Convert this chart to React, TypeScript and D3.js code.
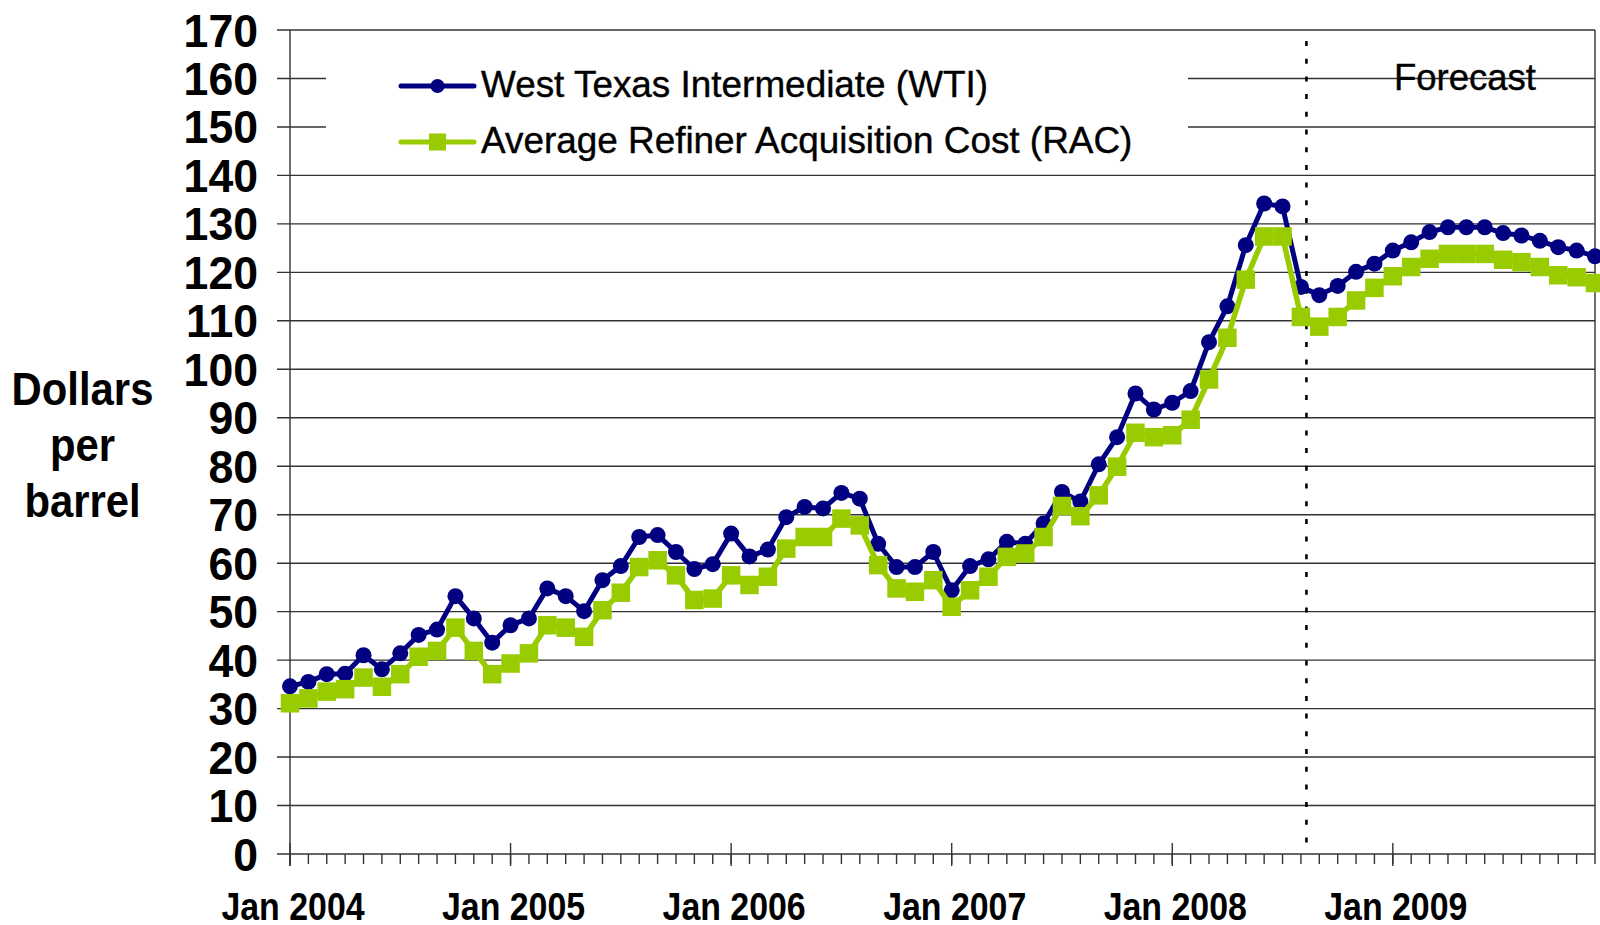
import React from "react";
import * as d3 from "d3";

// ---- Data ----
const years = [2004, 2005, 2006, 2007, 2008, 2009];
const monthNames = ["Jan", "Feb", "Mar", "Apr", "May", "Jun", "Jul", "Aug", "Sep", "Oct", "Nov", "Dec"];
const months: string[] = years.flatMap((y) => monthNames.map((m) => `${m} ${y}`));

const wti = [
  34.6, 35.5, 37.1, 37.2, 41.0, 38.1, 41.4, 45.2, 46.3, 53.2, 48.6, 43.6,
  47.2, 48.6, 54.8, 53.2, 50.1, 56.5, 59.4, 65.4, 65.8, 62.3, 58.8, 59.8,
  66.1, 61.4, 62.8, 69.5, 71.6, 71.3, 74.5, 73.3, 64.0, 59.2, 59.2, 62.3,
  54.4, 59.4, 60.8, 64.4, 64.0, 68.2, 74.7, 72.7, 80.4, 86.0, 95.0, 91.7,
  93.1, 95.5, 105.6, 113.0, 125.6, 134.2, 133.6, 117.0, 115.3, 117.2, 120.1, 121.8,
  124.5, 126.2, 128.3, 129.3, 129.3, 129.3, 128.1, 127.6, 126.5, 125.2, 124.5, 123.3,
];

const rac = [
  31.1, 32.1, 33.5, 34.0, 36.4, 34.5, 37.1, 40.7, 41.9, 46.7, 41.9, 37.1,
  39.3, 41.4, 47.2, 46.7, 44.8, 50.3, 53.9, 59.2, 60.6, 57.5, 52.4, 52.7,
  57.5, 55.5, 57.2, 63.0, 65.4, 65.4, 69.2, 67.8, 59.6, 54.8, 54.1, 56.5,
  51.0, 54.4, 57.2, 61.3, 62.0, 65.4, 71.8, 69.7, 74.0, 79.9, 86.9, 86.0,
  86.4, 89.6, 97.9, 106.5, 118.5, 127.4, 127.4, 110.8, 108.8, 110.8, 114.2, 116.8,
  119.2, 121.1, 122.8, 123.8, 123.8, 123.8, 122.6, 122.1, 121.1, 119.4, 119.0, 117.8,
];

const yTicks = d3.range(0, 171, 10);
const yearLabels = years.map((y) => `Jan ${y}`);
const forecastMonth = "Aug 2008";
const seriesNames = ["West Texas Intermediate (WTI)", "Average Refiner Acquisition Cost (RAC)"];
const forecastLabel = "Forecast";
const yTitleLines = ["Dollars", "per", "barrel"];

// ---- Layout ----
const W = 1600;
const H = 925;
const left = 290;
const right = 1595;
const top = 30;
const bottom = 854;

const BLUE = "#000080";
const GREEN = "#99CC00";
const GRID = "#333333";
const FONT = "'Liberation Sans', Arial, Helvetica, sans-serif";

export default function App() {
  const x = d3.scalePoint<string>().domain(months).range([left, right]);
  const y = d3.scaleLinear().domain([0, 170]).range([bottom, top]);
  const step = x.step();

  const line = d3
    .line<number>()
    .x((_, i) => x(months[i]) as number)
    .y((d) => y(d));

  const forecastX = (x(forecastMonth) as number) + step * 0.3;

  // legend area hides some gridlines
  const legendBox = { x0: 326, x1: 1188, y0: 40, y1: 165 };

  const legendItems = [
    { name: seriesNames[0], color: BLUE, shape: "circle", y: 86, base: 96.5 },
    { name: seriesNames[1], color: GREEN, shape: "square", y: 142, base: 152.5 },
  ];

  const sq = 18.5;

  return (
    <svg
      width={W}
      height={H}
      viewBox={`0 0 ${W} ${H}`}
      style={{ position: "absolute", left: 0, top: 0, background: "#fff" }}
    >
      <rect x={0} y={0} width={W} height={H} fill="#fff" />

      {/* gridlines */}
      {yTicks.map((t) => (
        <line
          key={`g${t}`}
          x1={left - 13}
          x2={right}
          y1={y(t)}
          y2={y(t)}
          stroke={GRID}
          strokeWidth={1.4}
        />
      ))}

      {/* legend background covering gridlines */}
      <rect
        x={legendBox.x0}
        y={legendBox.y0}
        width={legendBox.x1 - legendBox.x0}
        height={legendBox.y1 - legendBox.y0}
        fill="#fff"
      />

      {/* right frame */}
      <line x1={right} x2={right} y1={top} y2={bottom} stroke={GRID} strokeWidth={1.4} />

      {/* y axis */}
      <line x1={left} x2={left} y1={top} y2={bottom + 12} stroke={GRID} strokeWidth={1.4} />

      {/* x minor ticks */}
      {months.map((m) => (
        <line
          key={`t${m}`}
          x1={x(m)}
          x2={x(m)}
          y1={bottom}
          y2={bottom + 10}
          stroke={GRID}
          strokeWidth={1.4}
        />
      ))}
      {/* x major ticks */}
      {yearLabels.map((m) => (
        <line
          key={`mt${m}`}
          x1={x(m)}
          x2={x(m)}
          y1={bottom - 11}
          y2={bottom + 12}
          stroke={GRID}
          strokeWidth={1.4}
        />
      ))}

      {/* forecast divider */}
      <line
        x1={forecastX}
        x2={forecastX}
        y1={top + 11}
        y2={bottom}
        stroke="#000"
        strokeWidth={2.6}
        strokeDasharray="5 12.7"
      />

      <text x={1394} y={90} fontFamily={FONT} fontSize={36.5} fill="#000" stroke="#000" strokeWidth={0.4}>
        {forecastLabel}
      </text>

      {/* y tick labels */}
      {yTicks.map((t) => (
        <text
          key={`yl${t}`}
          transform={`translate(258, ${y(t) + 16.5}) scale(0.97, 1)`}
          textAnchor="end"
          fontFamily={FONT}
          fontWeight="bold"
          fontSize={46}
          fill="#000"
        >
          {t}
        </text>
      ))}

      {/* x labels */}
      {yearLabels.map((m) => (
        <text
          key={`xl${m}`}
          transform={`translate(${(x(m) as number) + 3}, 920) scale(0.88, 1)`}
          textAnchor="middle"
          fontFamily={FONT}
          fontWeight="bold"
          fontSize={38.5}
          fill="#000"
        >
          {m}
        </text>
      ))}

      {/* y title */}
      {yTitleLines.map((l, i) => (
        <text
          key={`yt${l}`}
          transform={`translate(82.5, ${405 + i * 56}) scale(0.89, 1)`}
          textAnchor="middle"
          fontFamily={FONT}
          fontWeight="bold"
          fontSize={47}
          fill="#000"
        >
          {l}
        </text>
      ))}

      {/* WTI series */}
      <path d={line(wti) || ""} fill="none" stroke={BLUE} strokeWidth={5} strokeLinejoin="round" />
      {wti.map((v, i) => (
        <circle key={`w${i}`} cx={x(months[i])} cy={y(v)} r={8} fill={BLUE} />
      ))}

      {/* RAC series */}
      <path d={line(rac) || ""} fill="none" stroke={GREEN} strokeWidth={5.5} strokeLinejoin="round" />
      {rac.map((v, i) => (
        <rect
          key={`r${i}`}
          x={(x(months[i]) as number) - sq / 2}
          y={y(v) - sq / 2}
          width={sq}
          height={sq}
          fill={GREEN}
        />
      ))}

      {/* legend */}
      {legendItems.map((it) => (
        <g key={it.name}>
          <line x1={401} x2={474} y1={it.y} y2={it.y} stroke={it.color} strokeWidth={5} strokeLinecap="round" />
          {it.shape === "circle" ? (
            <circle cx={437.5} cy={it.y} r={7} fill={it.color} />
          ) : (
            <rect x={429} y={it.y - 8.5} width={17} height={17} fill={it.color} />
          )}
          <text
            x={481}
            y={it.base}
            fontFamily={FONT}
            fontSize={36.9}
            fill="#000"
            stroke="#000"
            strokeWidth={0.4}
          >
            {it.name}
          </text>
        </g>
      ))}
    </svg>
  );
}
